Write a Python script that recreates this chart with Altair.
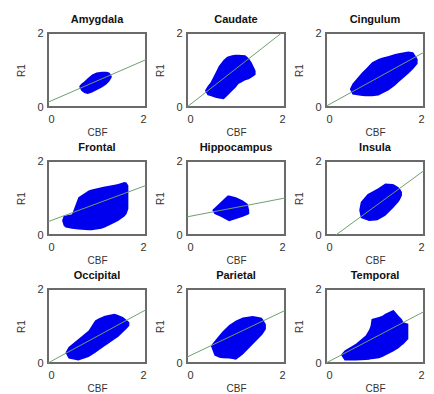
import altair as alt
import pandas as pd

regions = ["Amygdala", "Caudate", "Cingulum",
           "Frontal", "Hippocampus", "Insula",
           "Occipital", "Parietal", "Temporal"]

# Outline of each point cloud: CBF positions with lower / upper R1 bounds
cbf = {
    "Amygdala": [0.64, 0.68, 0.74, 0.81, 0.90, 0.99, 1.10, 1.19, 1.25, 1.30],
    "Caudate": [0.37, 0.42, 0.48, 0.58, 0.65, 0.75, 0.82, 0.92, 0.99, 1.05, 1.19, 1.26, 1.32, 1.40],
    "Cingulum": [0.49, 0.54, 0.74, 0.81, 0.94, 1.07, 1.14, 1.28, 1.41, 1.48, 1.68, 1.78, 1.87],
    "Frontal": [0.29, 0.32, 0.36, 0.49, 0.62, 0.83, 0.89, 1.09, 1.16, 1.36, 1.43, 1.56, 1.60, 1.64],
    "Hippocampus": [0.52, 0.56, 0.69, 0.83, 0.86, 1.00, 1.14, 1.24, 1.27],
    "Insula": [0.68, 0.71, 0.85, 0.88, 1.01, 1.05, 1.21, 1.35, 1.38, 1.48, 1.51, 1.55],
    "Occipital": [0.36, 0.42, 0.62, 0.83, 0.96, 1.03, 1.16, 1.23, 1.36, 1.43, 1.53, 1.60, 1.66],
    "Parietal": [0.49, 0.56, 0.66, 0.73, 0.86, 0.93, 1.00, 1.14, 1.34, 1.51, 1.54, 1.61],
    "Temporal": [0.31, 0.38, 0.61, 0.81, 0.88, 0.91, 0.93, 1.08, 1.15, 1.21, 1.35, 1.38, 1.48, 1.55, 1.58, 1.68],
}
r1_lo = {
    "Amygdala": [0.54, 0.44, 0.38, 0.35, 0.39, 0.45, 0.53, 0.61, 0.69, 0.80],
    "Caudate": [0.43, 0.32, 0.30, 0.25, 0.23, 0.21, 0.30, 0.43, 0.52, 0.62, 0.72, 0.75, 0.80, 0.87],
    "Cingulum": [0.47, 0.34, 0.30, 0.29, 0.29, 0.31, 0.36, 0.45, 0.58, 0.67, 0.90, 1.03, 1.17],
    "Frontal": [0.38, 0.25, 0.20, 0.17, 0.15, 0.13, 0.13, 0.17, 0.20, 0.33, 0.38, 0.50, 0.56, 0.70],
    "Hippocampus": [0.66, 0.57, 0.49, 0.39, 0.37, 0.43, 0.49, 0.55, 0.57],
    "Insula": [0.66, 0.46, 0.39, 0.38, 0.39, 0.40, 0.52, 0.70, 0.74, 0.89, 0.95, 1.07],
    "Occipital": [0.27, 0.12, 0.07, 0.16, 0.27, 0.34, 0.46, 0.52, 0.64, 0.70, 0.83, 0.92, 1.01],
    "Parietal": [0.45, 0.20, 0.14, 0.13, 0.12, 0.11, 0.09, 0.23, 0.50, 0.73, 0.77, 0.91],
    "Temporal": [0.21, 0.07, 0.07, 0.08, 0.09, 0.10, 0.10, 0.13, 0.16, 0.20, 0.30, 0.32, 0.40, 0.48, 0.51, 0.65],
}
r1_hi = {
    "Amygdala": [0.57, 0.63, 0.69, 0.78, 0.88, 0.93, 0.95, 0.95, 0.93, 0.84],
    "Caudate": [0.45, 0.56, 0.66, 0.92, 1.11, 1.28, 1.36, 1.40, 1.41, 1.41, 1.40, 1.32, 1.20, 0.98],
    "Cingulum": [0.49, 0.63, 0.94, 1.03, 1.21, 1.30, 1.33, 1.38, 1.43, 1.45, 1.50, 1.48, 1.30],
    "Frontal": [0.40, 0.52, 0.53, 0.56, 1.02, 1.20, 1.23, 1.29, 1.31, 1.36, 1.38, 1.43, 1.42, 1.34],
    "Hippocampus": [0.68, 0.73, 0.89, 1.07, 1.07, 1.02, 0.93, 0.84, 0.66],
    "Insula": [0.68, 0.89, 1.11, 1.13, 1.22, 1.25, 1.39, 1.38, 1.37, 1.29, 1.25, 1.16],
    "Occipital": [0.29, 0.43, 0.65, 0.88, 1.15, 1.20, 1.28, 1.30, 1.33, 1.30, 1.24, 1.17, 1.10],
    "Parietal": [0.47, 0.59, 0.75, 0.86, 1.03, 1.09, 1.15, 1.23, 1.27, 1.23, 1.20, 1.05],
    "Temporal": [0.23, 0.34, 0.52, 0.74, 0.90, 1.01, 1.19, 1.24, 1.28, 1.33, 1.42, 1.43, 1.28, 1.18, 1.10, 1.06],
}

# Fit line end points (CBF, R1)
fit_x0 = [0.0, 0.0, 0.0, 0.0, 0.0, 0.2, 0.0, 0.0, 0.0]
fit_y0 = [0.13, 0.0, 0.02, 0.36, 0.49, 0.0, 0.0, 0.16, 0.0]
fit_x1 = [2.0, 1.93, 2.0, 2.0, 2.0, 2.0, 2.0, 2.0, 2.0]
fit_y1 = [1.28, 2.0, 1.48, 1.34, 1.0, 1.74, 1.44, 1.42, 1.39]

tick_vals = [0, 1, 2]
FONT = "Liberation Sans"
W, H = 98, 74
FRAME = "#6a6a6a"


def panel(i, name):
    df = pd.DataFrame({"CBF": cbf[name], "lo": r1_lo[name], "hi": r1_hi[name]})
    ln = pd.DataFrame({"CBF": [fit_x0[i], fit_x1[i]], "R1": [fit_y0[i], fit_y1[i]]})
    one = pd.DataFrame({"f": [0]})
    xs = alt.Scale(domain=[0, 2], nice=False, zero=False)
    ys = alt.Scale(domain=[0, 2], nice=False, zero=False)
    xaxis = alt.Axis(values=tick_vals, format="d", grid=False, ticks=False, domain=False,
                     labelFont=FONT, labelFontSize=11, labelColor="#333333", labelPadding=6,
                     titleFont=FONT, titleFontSize=10, titleFontWeight="normal",
                     titleColor="#333333", titlePadding=3)
    yaxis = alt.Axis(values=tick_vals, format="d", grid=False, ticks=False, domain=False,
                     labelFont=FONT, labelFontSize=11, labelColor="#333333", labelPadding=5,
                     titleFont=FONT, titleFontSize=10, titleFontWeight="normal",
                     titleColor="#333333", titlePadding=10)
    # plot frame: grey box with white interior
    outer = alt.Chart(one).mark_rect(color=FRAME).encode(
        x=alt.value(-1), x2=alt.value(W + 1), y=alt.value(-1), y2=alt.value(H + 1))
    inner = alt.Chart(one).mark_rect(color="white").encode(
        x=alt.value(1), x2=alt.value(W - 1), y=alt.value(1), y2=alt.value(H - 1))
    area = alt.Chart(df).mark_area(color="#0000ee", opacity=1, clip=True).encode(
        x=alt.X("CBF:Q", scale=xs, axis=xaxis, title="CBF"),
        y=alt.Y("lo:Q", scale=ys, axis=yaxis, title="R1"),
        y2="hi:Q",
    )
    line = alt.Chart(ln).mark_line(color="#6f9f6f", strokeWidth=1, clip=True).encode(
        x=alt.X("CBF:Q", scale=xs),
        y=alt.Y("R1:Q", scale=ys),
    )
    return alt.layer(outer, inner, area, line).properties(
        width=W, height=H,
        title=alt.TitleParams(name, font=FONT, fontSize=11, fontWeight="bold",
                              color="#111111", offset=2),
    )


rows = []
for r in range(3):
    rows.append(alt.hconcat(*[panel(3 * r + c, regions[3 * r + c]) for c in range(3)],
                            spacing=8))
chart = alt.vconcat(*rows, spacing=5).properties(
    padding={"left": 8, "top": 6, "right": 0, "bottom": 0},
    background="white",
).configure_view(stroke=None)

chart.save("out.html", embed_options={"renderer": "svg", "actions": False})
